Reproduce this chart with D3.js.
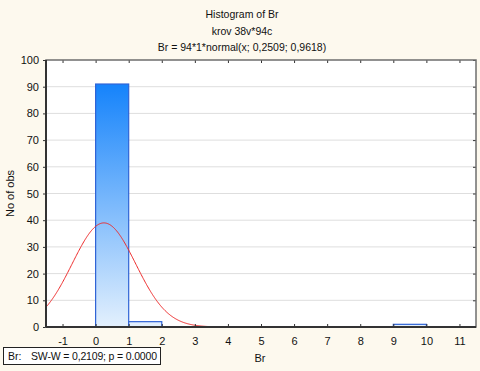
<!DOCTYPE html>
<meta charset="utf-8">
<head>
  <style>
    body { margin: 0; background: #fdf9ee; }
    svg { display: block; font-family: "Liberation Sans", Arial, sans-serif; }
    .grid line { stroke: #dedede; stroke-width: 1px; }
    .axis text { font-size: 11px; fill: #111; }
    .axis path { display: none; }
    .axis line { stroke: #333; }
  </style>
  <script src="https://d3js.org/d3.v7.min.js"></script>
</head>
<body>
  <svg width="480" height="371"></svg>
  <script>
    // histogram bins (lower edge, upper edge, count)
    var binLo = [0, 1, 9];
    var binHi = [1, 2, 10];
    var counts = [91, 2, 1];
    var xTicks = [-1, 0, 1, 2, 3, 4, 5, 6, 7, 8, 9, 10, 11];
    var yTicks = [0, 10, 20, 30, 40, 50, 60, 70, 80, 90, 100];
    // fitted normal: N * binWidth * normal(x; mean, sd)
    var fitN = [94], fitMean = [0.2509], fitSd = [0.9618];
    var titles = ["Histogram of Br", "krov 38v*94c", "Br = 94*1*normal(x; 0,2509; 0,9618)"];

    var svg = d3.select("svg");
    var m = { left: 46, right: 476, top: 60, bottom: 327 };

    var x = d3.scaleLinear().domain([-1.5, 11.5]).range([m.left, m.right]);
    var y = d3.scaleLinear().domain([0, 100]).range([m.bottom, m.top]);

    var defs = svg.append("defs");
    var grad = defs.append("linearGradient")
      .attr("id", "barGrad")
      .attr("gradientUnits", "userSpaceOnUse")
      .attr("x1", 0).attr("x2", 0)
      .attr("y1", y(91)).attr("y2", y(0));
    grad.append("stop").attr("offset", "0%").attr("stop-color", "#1583fb");
    grad.append("stop").attr("offset", "100%").attr("stop-color", "#e3f0fd");

    defs.append("clipPath").attr("id", "plotClip")
      .append("rect")
      .attr("x", m.left).attr("y", m.top)
      .attr("width", m.right - m.left).attr("height", m.bottom - m.top);

    // plot background
    svg.append("rect")
      .attr("x", m.left).attr("y", m.top)
      .attr("width", m.right - m.left).attr("height", m.bottom - m.top)
      .attr("fill", "#fff");

    // titles
    svg.selectAll(".title")
      .data(titles)
      .enter()
      .append("text")
      .attr("class", "title")
      .attr("x", 242)
      .attr("y", function(d, i) { return 18 + i * 16.5; })
      .attr("text-anchor", "middle")
      .attr("font-size", "10.5px")
      .attr("fill", "#111")
      .text(function(d) { return d; });

    // grid
    svg.append("g")
      .attr("class", "grid")
      .selectAll("line")
      .data(yTicks.slice(1, -1))
      .enter()
      .append("line")
      .attr("x1", m.left).attr("x2", m.right)
      .attr("y1", function(d) { return y(d); })
      .attr("y2", function(d) { return y(d); });

    // bars
    svg.append("g")
      .selectAll("rect")
      .data(counts)
      .enter()
      .append("rect")
      .attr("x", function(d, i) { return x(binLo[i]); })
      .attr("y", function(d) { return y(d); })
      .attr("width", function(d, i) { return x(binHi[i]) - x(binLo[i]); })
      .attr("height", function(d) { return y(0) - y(d); })
      .attr("fill", "url(#barGrad)")
      .attr("stroke", "#2f63d6")
      .attr("stroke-width", 1.2);

    // normal curve
    var pts = d3.range(-1.5, 11.5 + 1e-9, 0.02).map(function(v) {
      var z = (v - fitMean[0]) / fitSd[0];
      return [v, fitN[0] * Math.exp(-0.5 * z * z) / (fitSd[0] * Math.sqrt(2 * Math.PI))];
    });
    svg.append("path")
      .datum(pts)
      .attr("clip-path", "url(#plotClip)")
      .attr("fill", "none")
      .attr("stroke", "#ee2a2a")
      .attr("stroke-width", 1)
      .attr("d", d3.line()
        .x(function(d) { return x(d[0]); })
        .y(function(d) { return y(d[1]); }));

    // axes
    svg.append("g")
      .attr("class", "axis")
      .attr("transform", "translate(0," + m.bottom + ")")
      .call(d3.axisBottom(x).tickValues(xTicks).tickSize(-3).tickPadding(10)
        .tickFormat(function(d) { return String(d); }));
    svg.append("g")
      .attr("class", "axis")
      .attr("transform", "translate(0," + m.top + ")")
      .call(d3.axisTop(x).tickValues(xTicks).tickSize(-3).tickFormat(""));
    svg.append("g")
      .attr("class", "axis")
      .attr("transform", "translate(" + m.left + ",0)")
      .call(d3.axisLeft(y).tickValues(yTicks).tickSize(3).tickPadding(4));
    svg.append("g")
      .attr("class", "axis")
      .attr("transform", "translate(" + m.right + ",0)")
      .call(d3.axisRight(y).tickValues(yTicks).tickSize(-3).tickFormat(""));

    // frame
    svg.append("rect")
      .attr("x", m.left).attr("y", m.top)
      .attr("width", m.right - m.left).attr("height", m.bottom - m.top)
      .attr("fill", "none")
      .attr("stroke", "#6e6e6e")
      .attr("stroke-width", 1.5);
    svg.append("line")
      .attr("x1", m.left).attr("x2", m.right)
      .attr("y1", m.bottom).attr("y2", m.bottom)
      .attr("stroke", "#333").attr("stroke-width", 2);
    svg.append("line")
      .attr("x1", m.left).attr("x2", m.left)
      .attr("y1", m.top).attr("y2", m.bottom)
      .attr("stroke", "#333").attr("stroke-width", 2);

    // axis labels
    svg.append("text")
      .attr("transform", "translate(14," + ((m.top + m.bottom) / 2) + ") rotate(-90)")
      .attr("text-anchor", "middle")
      .attr("font-size", "11px")
      .attr("fill", "#111")
      .text("No of obs");
    svg.append("text")
      .attr("x", 260).attr("y", 362)
      .attr("text-anchor", "middle")
      .attr("font-size", "11px")
      .attr("fill", "#111")
      .text("Br");

    // test box
    svg.append("rect")
      .attr("x", 3.5).attr("y", 347.5)
      .attr("width", 157).attr("height", 17)
      .attr("fill", "#fff")
      .attr("stroke", "#222")
      .attr("stroke-width", 1);
    svg.append("text")
      .attr("x", 8).attr("y", 360)
      .attr("font-size", "10.5px")
      .attr("fill", "#111")
      .text("Br:");
    svg.append("text")
      .attr("x", 31).attr("y", 360)
      .attr("font-size", "10.5px")
      .attr("fill", "#111")
      .attr("textLength", 126)
      .text("SW-W = 0,2109; p = 0.0000");
  </script>
</body>
